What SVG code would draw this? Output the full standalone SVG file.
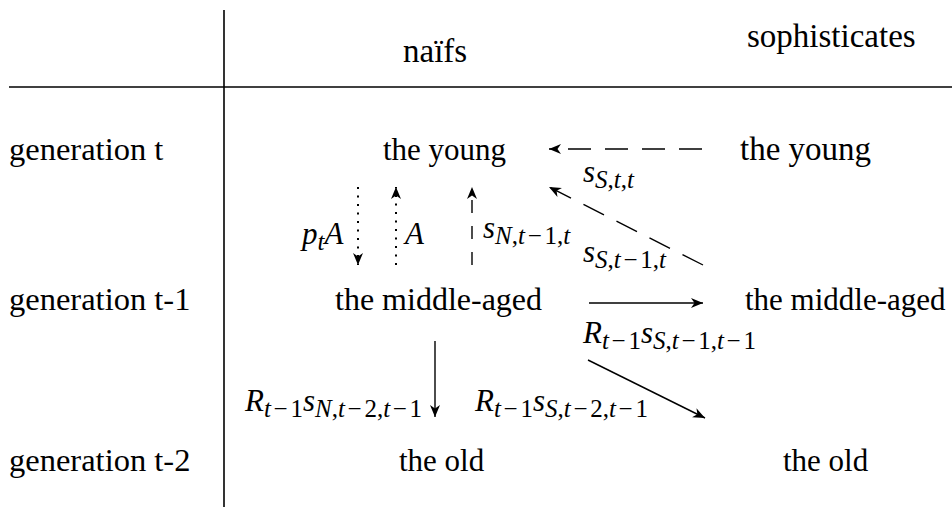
<svg xmlns="http://www.w3.org/2000/svg" width="952" height="507" viewBox="0 0 952 507">
<style>
.t{font-family:"Liberation Serif","Times New Roman",serif;font-size:31px;fill:#000}
.mi{font-family:"Liberation Serif","Times New Roman",serif;font-size:31px;font-style:italic;fill:#000}
.sb{font-size:25px}
.up{font-style:normal}
.ln{stroke:#000;stroke-width:1.6;fill:none}
.sol{stroke:#000;stroke-width:1.4;fill:none;marker-end:url(#ah)}
.dsh{stroke:#000;stroke-width:1.4;fill:none;stroke-dasharray:23 14;marker-end:url(#ah)}
.dsh2{stroke:#000;stroke-width:1.4;fill:none;stroke-dasharray:13 13;marker-end:url(#ah)}
.dot{stroke:#000;stroke-width:2;fill:none;stroke-dasharray:2 6.5;marker-end:url(#ah)}
</style>
<defs>
<marker id="ah" markerUnits="userSpaceOnUse" viewBox="-13 -6 14 12" refX="0" refY="0" markerWidth="14" markerHeight="12" orient="auto">
<path d="M0,0 L-12,-5 L-8.5,0 L-12,5 Z" fill="#000"/>
</marker>
</defs>
<rect width="952" height="507" fill="#fff"/>
<g id="grid">
<line class="ln" x1="224" y1="10" x2="224" y2="507"/>
<line class="ln" x1="9" y1="87" x2="952" y2="87"/>
</g>
<g id="headers">
<text class="t" x="403" y="62" style="font-size:33px">naïfs</text>
<text class="t" x="747" y="47" style="font-size:33px">sophisticates</text>
</g>
<g id="rows">
<text class="t" x="9" y="160" style="font-size:32.5px">generation t</text>
<text class="t" x="9" y="310" style="font-size:32.5px">generation t-1</text>
<text class="t" x="9" y="471" style="font-size:32.5px">generation t-2</text>
</g>
<g id="naive-young"><text class="t" x="383" y="160">the young</text></g>
<g id="soph-young"><text class="t" x="740" y="160" style="font-size:33px">the young</text></g>
<g id="naive-middle"><text class="t" x="335" y="310" style="font-size:32px">the middle-aged</text></g>
<g id="soph-middle"><text class="t" x="745" y="310">the middle-aged</text></g>
<g id="naive-old"><text class="t" x="399" y="471">the old</text></g>
<g id="soph-old"><text class="t" x="783" y="471">the old</text></g>
<g id="connectors">
<line class="dsh" x1="702" y1="149" x2="549" y2="149"/>
<line class="dsh" x1="703" y1="265" x2="549" y2="187"/>
<line class="dot" x1="358" y1="187" x2="358" y2="265"/>
<line class="dot" x1="396" y1="265" x2="396" y2="187"/>
<line class="dsh2" x1="472" y1="265" x2="472" y2="187"/>
<line class="sol" x1="589" y1="303" x2="703" y2="303"/>
<line class="sol" x1="435" y1="341" x2="435" y2="417"/>
<line class="sol" x1="588" y1="360" x2="705" y2="418"/>
</g>
<g id="labels">
<text class="mi" x="583" y="182">s<tspan class="sb" dy="6">S<tspan class="up">,</tspan>t<tspan class="up">,</tspan>t</tspan></text>
<text class="mi" x="583" y="262">s<tspan class="sb" dy="6">S<tspan class="up">,</tspan>t<tspan class="up" dx="2.7">−</tspan><tspan class="up" dx="2.7">1,</tspan>t</tspan></text>
<text class="mi" x="302" y="244">p<tspan class="sb" dy="6">t</tspan><tspan dy="-6">A</tspan></text>
<text class="mi" x="405" y="244">A</text>
<text class="mi" x="483" y="238">s<tspan class="sb" dy="6">N<tspan class="up">,</tspan>t<tspan class="up" dx="2.7">−</tspan><tspan class="up" dx="2.7">1,</tspan>t</tspan></text>
<text class="mi" x="583" y="343">R<tspan class="sb" dy="6">t<tspan class="up" dx="2.7">−</tspan><tspan class="up" dx="2.7">1</tspan></tspan><tspan dy="-6">s</tspan><tspan class="sb" dy="6">S<tspan class="up">,</tspan>t<tspan class="up" dx="2.7">−</tspan><tspan class="up" dx="2.7">1,</tspan>t<tspan class="up" dx="2.7">−</tspan><tspan class="up" dx="2.7">1</tspan></tspan></text>
<text class="mi" x="245" y="411">R<tspan class="sb" dy="6">t<tspan class="up" dx="2.7">−</tspan><tspan class="up" dx="2.7">1</tspan></tspan><tspan dy="-6">s</tspan><tspan class="sb" dy="6">N<tspan class="up">,</tspan>t<tspan class="up" dx="2.7">−</tspan><tspan class="up" dx="2.7">2,</tspan>t<tspan class="up" dx="2.7">−</tspan><tspan class="up" dx="2.7">1</tspan></tspan></text>
<text class="mi" x="475" y="411">R<tspan class="sb" dy="6">t<tspan class="up" dx="2.7">−</tspan><tspan class="up" dx="2.7">1</tspan></tspan><tspan dy="-6">s</tspan><tspan class="sb" dy="6">S<tspan class="up">,</tspan>t<tspan class="up" dx="2.7">−</tspan><tspan class="up" dx="2.7">2,</tspan>t<tspan class="up" dx="2.7">−</tspan><tspan class="up" dx="2.7">1</tspan></tspan></text>
</g>
</svg>
